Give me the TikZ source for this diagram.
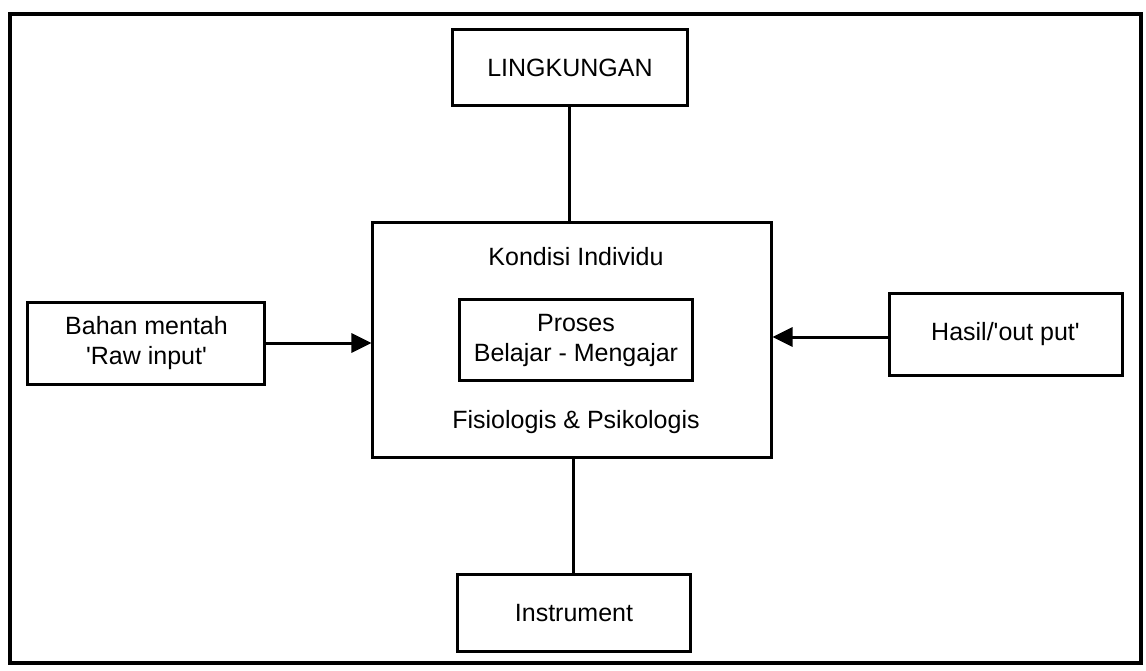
\documentclass[tikz,border=0pt]{standalone}
\usepackage{fontspec}
\setmainfont{Liberation Sans}
\newlength{\hdist}
\newlength{\hdistlong}
\newlength{\vdist}
\usepackage{tikz}
\usetikzlibrary{positioning}
\usetikzlibrary{arrows.meta}
\tikzstyle{box}=[draw, rectangle, line width=3pt, inner sep=0pt, align=center]
\tikzstyle{label}=[inner sep=0pt, text depth=0ex]
\tikzstyle{frame}=[draw, line width=3.6pt]

\begin{document}
\begin{tikzpicture}[x=1pt, y=1pt, line width = 3pt, font=\fontsize{25}{30}\selectfont, -{Triangle[length=20pt, width=19pt]}]

				\useasboundingbox (-572,340) rectangle (574,-330);
				\draw [frame, -] (-562,326) rectangle (569,-323);

				\setlength{\hdist}{105pt}
				\setlength{\hdistlong}{115pt}
				\setlength{\vdist}{114pt}

				\node (kondisi) [box, minimum width=398pt, minimum height=235pt] at (0,0) {};
				\node (proses) [box, minimum width=233pt, minimum height=81pt] at (4,0) {Proses\\Belajar - Mengajar};
				\node (individu) [label, above=31pt of proses] {Kondisi Individu};
				\node (fisio) [label, below=27pt of proses, anchor=north] {Fisiologis \& Psikologis};

				\node (lingk) [box, above=\vdist of kondisi, xshift=-2pt, minimum width=234pt, minimum height=76pt] {LINGKUNGAN};
				\node (instr) [box, below=\vdist of kondisi, xshift=2pt, minimum width=233pt, minimum height=77pt] {Instrument};
				\node (bahan) [box, left=\hdist of kondisi, yshift=-3pt, minimum width=237pt, minimum height=82pt] {Bahan mentah\\\textquotesingle Raw input\textquotesingle};
				\node (hasil) [box, right=\hdistlong of kondisi, yshift=6pt, minimum width=233pt, minimum height=82pt] {Hasil/\textquotesingle out put\textquotesingle};

				\draw [-] (lingk) to (lingk.south |- kondisi.north);
				\draw [-] (instr.north |- kondisi.south) to (instr);
				\draw (bahan) to (bahan.east -| kondisi.west);
				\draw ([yshift=-3pt]hasil.west) to ([yshift=-3pt]hasil.west -| kondisi.east);
				\end{tikzpicture}
\end{document}
